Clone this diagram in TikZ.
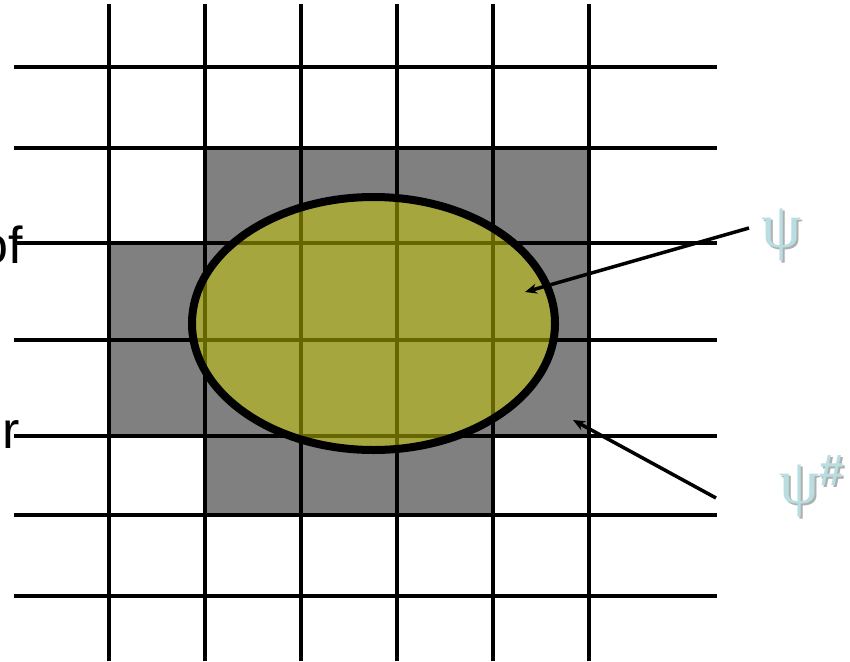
\documentclass[tikz,border=0pt]{standalone}
\usepackage{fontspec}
\setmainfont{Liberation Sans}
\newfontfamily\psifont{Liberation Serif}
\usetikzlibrary{arrows.meta,positioning}
\definecolor{cellgray}{RGB}{128,128,128}
\definecolor{blobolive}{RGB}{205,205,0}
\definecolor{psiblue}{RGB}{185,222,226}
\definecolor{psishade}{RGB}{175,175,175}
\newcommand{\sharpmark}{\raisebox{18pt}{\rmfamily\fontsize{44}{48}\selectfont\bfseries\#}}
\tikzset{
  gridline/.style={line width=3.8pt, black},
  cellfill/.style={fill=cellgray},
  blobfill/.style={fill=blobolive, fill opacity=0.5},
  blobedge/.style={draw=black, line width=8pt},
  cuttext/.style={font=\fontsize{52}{60}\selectfont, inner sep=0pt},
  psitext/.style={font=\psifont\fontsize{64}{70}\selectfont, inner sep=0pt, text=psiblue},
  psishadow/.style={font=\psifont\fontsize{64}{70}\selectfont, inner sep=0pt, text=psishade},
  pointer/.style={-{Stealth[length=12pt,width=10pt]}, line width=3.5pt}
}
\begin{document}
\begin{tikzpicture}[x=1pt, y=-1pt]
\useasboundingbox (0,0) rectangle (850,661);
% shaded cells
\fill[cellfill] (205,148) rectangle (589,243);
\fill[cellfill] (109,243) rectangle (589,436);
\fill[cellfill] (205,436) rectangle (493,515);
% grid
\foreach \gx in {109,205,301,397,493,589}
  \draw[gridline] (\gx,4) -- (\gx,661);
\foreach \gy in {67,148,243,340,436,515,596}
  \draw[gridline] (14,\gy) -- (717,\gy);
% the set
\fill[blobfill] (373.5,323.5) ellipse [x radius=181.5, y radius=126.5];
\draw[blobedge] (373.5,323.5) ellipse [x radius=181.5, y radius=126.5];
% cut-off words at the left
\node[cuttext, anchor=base east] (wordof) at (23,263) {of};
\node[cuttext, anchor=base east] (wordr) at (20,448) {r};
% labels
\node[psishadow, anchor=base] (psishade) at (784,249) {ψ};
\node[psitext, anchor=base] (psi) at (782,247) {ψ};
\node[psishadow, anchor=base west] (psiashade) at (781,505) {ψ\sharpmark};
\node[psitext, anchor=base west] (psia) at (779,503) {ψ\sharpmark};
\coordinate (inblob) at (525,292);
\coordinate (incells) at (573,420);
\coordinate (psitail) at (749,228);
\coordinate (psiatail) at (716,498);
\draw[pointer] (psitail) -- (inblob);
\draw[pointer] (psiatail) -- (incells);
\end{tikzpicture}
\end{document}
